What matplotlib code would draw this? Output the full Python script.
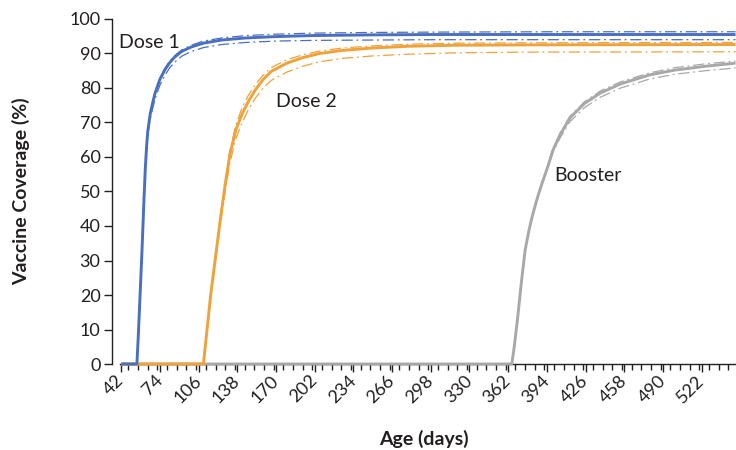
import matplotlib
matplotlib.use("Agg")
import matplotlib.pyplot as plt
from matplotlib.ticker import MultipleLocator
from matplotlib.transforms import ScaledTranslation

plt.rcParams['font.family'] = ['Lato', 'DejaVu Sans']

# Dose 1 coverage (%) by age in days
dose1_days = [42, 55, 56, 57, 58, 59, 60, 61, 62, 63, 64, 66, 68, 70, 74, 78, 82, 86, 92,
              100, 110, 125, 145, 170, 200, 250, 300, 400, 550]
dose1_mid = [0, 0, 7, 15, 23, 31, 40, 49, 57, 63, 67.5, 72.5, 75.6, 78.5, 82.5, 85.2, 87.3,
             88.9, 90.6, 91.9, 93.0, 93.9, 94.5, 94.9, 95.2, 95.4, 95.5, 95.5, 95.5]
dose1_low = [0, 0, 7, 15, 23, 31, 40, 49, 56.5, 62, 66.3, 71, 74, 76.8, 80.8, 83.6, 85.8,
             87.4, 89.2, 90.6, 91.7, 92.6, 93.2, 93.6, 93.8, 93.9, 94.0, 94.0, 94.0]
dose1_up = [0, 0, 7, 15, 23, 31, 40, 49, 57, 63, 67.5, 72.5, 75.7, 78.7, 82.8, 85.6, 87.7,
            89.3, 91.0, 92.4, 93.6, 94.5, 95.2, 95.6, 95.9, 96.1, 96.2, 96.3, 96.3]

# Dose 2 coverage (%) by age in days
dose2_days = [42, 110, 113, 116, 120, 124, 128, 132, 137, 142, 147, 153, 159, 166, 179,
              192, 206, 225, 250, 280, 320, 380, 550]
dose2_mid = [0, 0, 10, 20, 31, 42, 52, 61, 68, 72.5, 76, 79.5, 82.3, 84.8, 87.2, 88.8,
             90.0, 90.9, 91.6, 92.1, 92.4, 92.5, 92.6]
dose2_low = [0, 0, 9.5, 19, 30, 40.5, 50, 58.5, 65.5, 70, 73.6, 77.1, 79.8, 82.2, 84.6, 86.3,
             87.6, 88.6, 89.3, 89.8, 90.2, 90.4, 90.5]
dose2_up = [0, 0, 10, 20, 31, 42, 52.5, 62, 69.5, 74.3, 77.8, 81.0, 83.6, 85.9, 88.2, 89.6,
            90.7, 91.6, 92.2, 92.7, 93.0, 93.1, 93.2]

# Booster coverage (%) by age in days
boost_days = [42, 365, 367, 370, 373, 376, 379, 382, 386, 390, 395, 399, 405, 413, 425,
              438, 455, 479, 500, 525, 550]
boost_mid = [0, 0, 5, 14, 24, 33, 38.5, 43, 48, 52.4, 57.5, 62, 66.5, 71.3, 75.5, 78.5,
             81.2, 83.8, 85.2, 86.3, 87.2]
boost_low = [0, 0, 5, 14, 24, 33, 38.5, 43, 48, 52, 57, 61.3, 65.6, 70.2, 74.3, 77.3,
             80.0, 82.6, 84.0, 85.0, 85.8]
boost_up = [0, 0, 5, 14, 24, 33, 38.5, 43, 48, 52.6, 57.8, 62.4, 67, 71.8, 76.0, 79.1,
            81.8, 84.4, 85.9, 87.0, 87.8]

x_major = list(range(42, 523, 32))
y_major = list(range(0, 101, 10))

BLUE = "#4a6fc0"
ORANGE = "#f0a23a"
GRAY = "#a8a8a8"
INK = "#231f20"

fig = plt.figure(figsize=(7.36, 4.5), dpi=100)
ax = fig.add_axes([0.163, 0.1911, 0.8356, 0.7667])

dash = (0, (9, 3, 1.5, 3))
series = [
    (boost_days, boost_mid, boost_low, boost_up, GRAY),
    (dose2_days, dose2_mid, dose2_low, dose2_up, ORANGE),
    (dose1_days, dose1_mid, dose1_low, dose1_up, BLUE),
]
for days, mid, low, up, col in series:
    ax.plot(days, low, color=col, lw=0.9, ls=dash, clip_on=False, zorder=3)
    ax.plot(days, up, color=col, lw=0.9, ls=dash, clip_on=False, zorder=3)
    ax.plot(days, mid, color=col, lw=2.1, solid_capstyle='butt', clip_on=False, zorder=4)

ax.set_xlim(41, 549.5)
ax.set_ylim(0, 100)

ax.spines['top'].set_visible(False)
ax.spines['right'].set_visible(False)
ax.spines['left'].set_position(('outward', 6))
for s in ('left', 'bottom'):
    ax.spines[s].set_color(INK)
    ax.spines[s].set_linewidth(1.0)

ax.set_xticks(x_major)
ax.set_xticklabels([str(v) for v in x_major], rotation=45, ha='right', va='center',
                   rotation_mode='anchor', fontsize=13, color=INK)
shift = ScaledTranslation(5 / 100, 0, fig.dpi_scale_trans)
for lab in ax.get_xticklabels():
    lab.set_transform(lab.get_transform() + shift)
ax.xaxis.set_minor_locator(MultipleLocator(8))
ax.set_yticks(y_major)
ax.set_yticklabels([str(v) for v in y_major], fontsize=13, color=INK)
ax.tick_params(axis='x', which='major', length=6, width=1, color=INK, pad=4)
ax.tick_params(axis='x', which='minor', length=4, width=1, color=INK)
ax.tick_params(axis='y', which='major', length=6, width=1, color=INK, pad=2)

ax.set_xlabel("Age (days)", fontsize=14, fontweight='bold', color=INK)
ax.xaxis.set_label_coords(0.494, -0.19)
ax.set_ylabel("Vaccine Coverage (%)", fontsize=14, fontweight='bold', color=INK)
ax.yaxis.set_label_coords(-0.146, 0.5)

ax.text(40.5, 93.3, "Dose 1", fontsize=14, color=INK, va='center', ha='left')
ax.text(170, 76.2, "Dose 2", fontsize=14, color=INK, va='center', ha='left')
ax.text(400, 54.6, "Booster", fontsize=14, color=INK, va='center', ha='left')

fig.savefig("out.png", dpi=100)
